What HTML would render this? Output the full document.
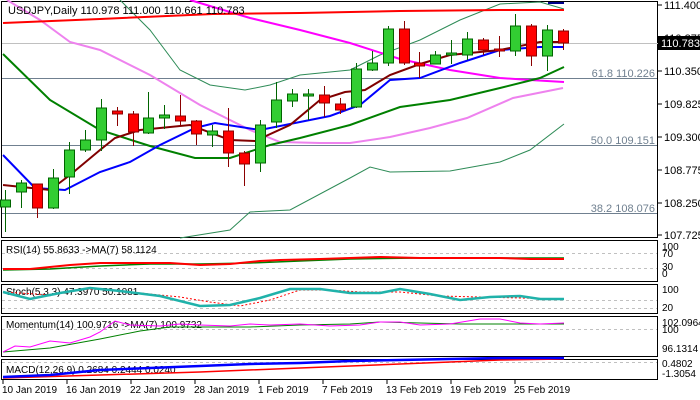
<!DOCTYPE html><html><head><style>body{margin:0;background:#fff}svg{display:block;font-family:"Liberation Sans",sans-serif}</style></head><body>
<svg width="700" height="400" viewBox="0 0 700 400" xmlns="http://www.w3.org/2000/svg">
<rect width="700" height="400" fill="#fff"/>
<g stroke="#000" fill="none" stroke-width="1">
<rect x="1.5" y="1.5" width="656" height="236"/>
<rect x="1.5" y="240.5" width="656" height="41"/>
<rect x="1.5" y="284.5" width="656" height="29"/>
<rect x="1.5" y="316.5" width="656" height="40"/>
<rect x="1.5" y="359.5" width="656" height="20"/>
</g>
<g stroke="#000"><line x1="658" y1="5" x2="662" y2="5"/><line x1="658" y1="38" x2="662" y2="38"/><line x1="658" y1="71" x2="662" y2="71"/><line x1="658" y1="104" x2="662" y2="104"/><line x1="658" y1="137" x2="662" y2="137"/><line x1="658" y1="170" x2="662" y2="170"/><line x1="658" y1="203" x2="662" y2="203"/><line x1="658" y1="235" x2="662" y2="235"/></g>
<line x1="2" y1="43.5" x2="658" y2="43.5" stroke="#c0c0c0"/>
<g stroke="#708090"><line x1="2" y1="78.5" x2="657" y2="78.5"/><line x1="2" y1="145.5" x2="657" y2="145.5"/><line x1="2" y1="213.5" x2="657" y2="213.5"/></g>
<g font-size="11" fill="#708090" text-anchor="end"><text x="655" y="77">61.8 110.226</text><text x="655" y="144">50.0 109.151</text><text x="655" y="212">38.2 108.076</text></g>
<g fill="none">
<polyline stroke="#2e8b57" stroke-width="1" points="120,0 150,30 180,70 210,85 245,90 270,85 300,75 350,70 380,55 420,40 460,20 500,4 540,2 564,9"/>
<polyline stroke="#2e8b57" stroke-width="1" points="180,238 230,230 250,212 290,210 350,178 370,167 390,172 450,171 500,162 530,150 564,124"/>
<polyline stroke="#ee82ee" stroke-width="2" points="7,0 40,20 70,42 100,50 150,75 200,105 250,130 280,142 320,143 350,143 390,137 430,128 467,118 513,98 563,88"/>
<polyline stroke="#ff00ff" stroke-width="2" points="190,0 250,18 300,30 350,43 400,59 450,70 500,78 530,80 564,82"/>
<polyline stroke="#ff0000" stroke-width="2" points="3,23 100,19 213,14 300,13 400,11 500,10 564,10"/>
<polyline stroke="#008000" stroke-width="2" points="3,54 50,100 100,130 150,146 195,158 230,158 270,145 300,138 350,125 400,107 450,100 500,88 540,78 564,67"/>
<polyline stroke="#0000ff" stroke-width="2" points="3,155 35,188 65,190 100,172 130,162 160,145 195,128 215,123 260,130 300,122 330,116 360,105 390,80 420,78 460,63 500,50 540,47 564,47"/>
<polyline stroke="#800000" stroke-width="2" points="3,185 50,190 70,175 100,150 115,138 140,130 190,125 230,140 255,141 290,125 320,100 345,92 365,90 390,75 420,64 450,55 500,50 540,42 564,42"/>
<line x1="548" y1="3" x2="564" y2="3" stroke="#00008b" stroke-width="2"/>
</g>
<g stroke-width="1">
<g stroke="#006400" fill="#32cd32">
<line x1="5.5" y1="190" x2="5.5" y2="232"/><rect x="0.5" y="200" width="10" height="7"/>
<line x1="21.5" y1="180" x2="21.5" y2="208"/><rect x="16.5" y="183" width="10" height="9"/>
<line x1="53.5" y1="169" x2="53.5" y2="209"/><rect x="48.5" y="178" width="10" height="30"/>
<line x1="69.5" y1="142" x2="69.5" y2="194"/><rect x="64.5" y="150" width="10" height="27"/>
<line x1="85.5" y1="130" x2="85.5" y2="152"/><rect x="80.5" y="140" width="10" height="10"/>
<line x1="101.5" y1="99" x2="101.5" y2="151"/><rect x="96.5" y="108" width="10" height="32"/>
<line x1="148.5" y1="92" x2="148.5" y2="134"/><rect x="143.5" y="118" width="10" height="15"/>
<line x1="164.5" y1="105" x2="164.5" y2="129"/><rect x="159.5" y="115" width="10" height="3"/>
<line x1="212.5" y1="125" x2="212.5" y2="147"/><rect x="207.5" y="131" width="10" height="4"/>
<line x1="260.5" y1="120" x2="260.5" y2="172"/><rect x="255.5" y="125" width="10" height="38"/>
<line x1="276.5" y1="82" x2="276.5" y2="128"/><rect x="271.5" y="100" width="10" height="22"/>
<line x1="292.5" y1="89" x2="292.5" y2="107"/><rect x="287.5" y="94" width="10" height="7"/>
<line x1="308.5" y1="89" x2="308.5" y2="120"/><rect x="303.5" y="94" width="10" height="2"/>
<line x1="356.5" y1="63" x2="356.5" y2="108"/><rect x="351.5" y="69" width="10" height="38"/>
<line x1="372.5" y1="51" x2="372.5" y2="71"/><rect x="367.5" y="63" width="10" height="7"/>
<line x1="388.5" y1="26" x2="388.5" y2="66"/><rect x="383.5" y="29" width="10" height="34"/>
<line x1="435.5" y1="51" x2="435.5" y2="64"/><rect x="430.5" y="55" width="10" height="9"/>
<line x1="451.5" y1="40" x2="451.5" y2="64"/><rect x="446.5" y="53" width="10" height="2"/>
<line x1="467.5" y1="32" x2="467.5" y2="60"/><rect x="462.5" y="39" width="10" height="16"/>
<line x1="515.5" y1="14" x2="515.5" y2="56"/><rect x="510.5" y="26" width="10" height="25"/>
<line x1="547.5" y1="25" x2="547.5" y2="71"/><rect x="542.5" y="30" width="10" height="26"/>
</g>
<g stroke="#8b0000" fill="#ff0000">
<line x1="37.5" y1="184" x2="37.5" y2="218"/><rect x="32.5" y="184" width="10" height="24"/>
<line x1="117.5" y1="107" x2="117.5" y2="126"/><rect x="112.5" y="111" width="10" height="3"/>
<line x1="133.5" y1="111" x2="133.5" y2="146"/><rect x="128.5" y="114" width="10" height="18"/>
<line x1="180.5" y1="95" x2="180.5" y2="126"/><rect x="175.5" y="116" width="10" height="5"/>
<line x1="196.5" y1="120" x2="196.5" y2="145"/><rect x="191.5" y="121" width="10" height="13"/>
<line x1="228.5" y1="108" x2="228.5" y2="167"/><rect x="223.5" y="131" width="10" height="22"/>
<line x1="244.5" y1="151" x2="244.5" y2="186"/><rect x="239.5" y="153" width="10" height="11"/>
<line x1="324.5" y1="86" x2="324.5" y2="117"/><rect x="319.5" y="95" width="10" height="8"/>
<line x1="340.5" y1="98" x2="340.5" y2="114"/><rect x="335.5" y="104" width="10" height="6"/>
<line x1="404.5" y1="21" x2="404.5" y2="65"/><rect x="399.5" y="29" width="10" height="34"/>
<line x1="419.5" y1="52" x2="419.5" y2="78"/><rect x="414.5" y="63" width="10" height="3"/>
<line x1="483.5" y1="38" x2="483.5" y2="55"/><rect x="478.5" y="40" width="10" height="10"/>
<line x1="499.5" y1="36" x2="499.5" y2="57"/><rect x="494.5" y="49" width="10" height="2"/>
<line x1="531.5" y1="24" x2="531.5" y2="66"/><rect x="526.5" y="26" width="10" height="30"/>
<line x1="563.5" y1="29" x2="563.5" y2="50"/><rect x="558.5" y="31" width="10" height="12"/>
</g>
</g>
<text x="8" y="14" font-size="11" fill="#000">USDJPY,Daily  110.978 111.000 110.661 110.783</text>
<g font-size="11" fill="#000"><text x="664" y="9">111.400</text><text x="664" y="42">110.875</text><text x="664" y="75">110.350</text><text x="664" y="108">109.825</text><text x="664" y="141">109.300</text><text x="664" y="174">108.775</text><text x="664" y="207">108.250</text><text x="664" y="239">107.725</text></g>
<rect x="658" y="36" width="42" height="14" fill="#000"/><text x="661" y="47" font-size="11" fill="#fff">110.783</text>
<g stroke="#c0c0c0" stroke-dasharray="3,3"><line x1="2" y1="253.5" x2="657" y2="253.5"/><line x1="2" y1="268.5" x2="657" y2="268.5"/><line x1="2" y1="300.5" x2="657" y2="300.5"/><line x1="2" y1="308.5" x2="657" y2="308.5"/><line x1="2" y1="329.5" x2="657" y2="329.5"/><line x1="2" y1="362.5" x2="657" y2="362.5"/></g>
<text x="6" y="253" font-size="10" fill="#000">RSI(14) 55.8633  -&gt;MA(7) 58.1124</text>
<polyline fill="none" stroke="#008000" stroke-width="1.5" points="3,270 50,269 100,266 150,264 200,264 250,263 300,261 350,259 420,258 500,258 564,258"/>
<polyline fill="none" stroke="#ff0000" stroke-width="2" points="3,269 30,269 70,265 100,263 130,263 170,263 200,265 230,264 260,261 280,260 320,259 350,258 380,257 420,258 460,258 500,258 530,259 564,259"/>
<g font-size="10" fill="#000"><text x="662" y="250">100</text><text x="662" y="257">70</text><text x="662" y="270">30</text><text x="662" y="277">0</text></g>
<text x="6" y="295" font-size="10" fill="#000">Stoch(5,3,3) 47.3970 50.1081</text>
<polyline fill="none" stroke="#ff0000" stroke-dasharray="2,2" points="3,292 50,295 80,290 100,289 140,293 180,297 210,302 240,306 270,300 300,290 330,290 360,292 400,292 440,296 480,297 520,298 564,299"/>
<polyline fill="none" stroke="#20b2aa" stroke-width="2.5" points="3,292 30,299 60,293 90,288 120,291 160,296 200,306 230,305 260,298 290,289 320,289 350,293 380,293 400,289 430,294 460,300 490,297 520,296 540,299 564,299"/>
<g font-size="10" fill="#000"><text x="662" y="293">100</text><text x="662" y="311">20</text></g>
<text x="6" y="328" font-size="10" fill="#000">Momentum(14) 100.9716  -&gt;MA(7) 100.9732</text>
<polyline fill="none" stroke="#008000" points="3,352 50,348 100,339 140,331 170,327 200,327 250,327 300,325 350,324 380,322 420,323 460,324 500,324 564,324"/>
<polyline fill="none" stroke="#ff00ff" points="3,352 15,346 30,347 50,341 70,343 90,337 100,332 115,321 130,325 160,326 180,324 200,325 230,326 250,324 270,325 300,324 330,326 360,325 380,322 400,322 420,325 450,324 480,319 500,319 520,323 540,324 564,323"/>
<g font-size="10" fill="#000"><text x="662" y="326">102.0964</text><text x="662" y="333">100</text><text x="662" y="352">96.1314</text></g>
<text x="6" y="373" font-size="10" fill="#000">MACD(12,26,9) 0.2684 0.2444 0.0240</text>
<polyline fill="none" stroke="#ff0000" stroke-width="1.5" points="3,378 100,375 200,372 300,368 400,364 500,360 564,359"/>
<polyline fill="none" stroke="#0000ff" stroke-width="2.5" points="3,377 50,375 100,370 150,368 200,366 250,364 300,363 350,361 400,360 450,359 500,358 564,358"/>
<g font-size="10" fill="#000"><text x="662" y="367">0.4802</text><text x="662" y="377">-1.3054</text></g>
<g font-size="10" fill="#000"><text x="2" y="393">10 Jan 2019</text><text x="66" y="393">16 Jan 2019</text><text x="130" y="393">22 Jan 2019</text><text x="194" y="393">28 Jan 2019</text><text x="258" y="393">1 Feb 2019</text><text x="322" y="393">7 Feb 2019</text><text x="386" y="393">13 Feb 2019</text><text x="450" y="393">19 Feb 2019</text><text x="514" y="393">25 Feb 2019</text></g>
<g stroke="#000"><line x1="3" y1="380" x2="3" y2="384"/><line x1="67" y1="380" x2="67" y2="384"/><line x1="131" y1="380" x2="131" y2="384"/><line x1="195" y1="380" x2="195" y2="384"/><line x1="259" y1="380" x2="259" y2="384"/><line x1="323" y1="380" x2="323" y2="384"/><line x1="387" y1="380" x2="387" y2="384"/><line x1="451" y1="380" x2="451" y2="384"/><line x1="515" y1="380" x2="515" y2="384"/></g>
</svg>
</body></html>
